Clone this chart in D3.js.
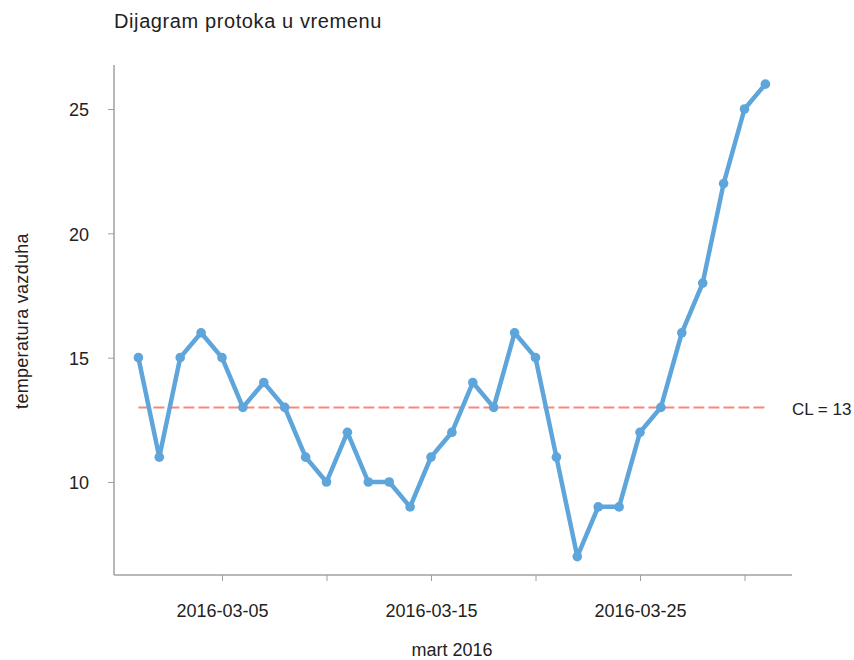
<!DOCTYPE html>
<html>
<head>
<meta charset="utf-8">
<script src="https://cdn.jsdelivr.net/npm/d3@7"></script>
<style>
  body { margin: 0; background: #fff; }
  svg text { font-family: "Liberation Sans", Arial, sans-serif; fill: #222; }
</style>
</head>
<body>
<svg id="chart" width="854" height="660"></svg>
<script>
// data: daily air temperature, March 2016
const days = d3.range(1, 32).map(d => new Date(2016, 2, d));
const temps = [15, 11, 15, 16, 15, 13, 14, 13, 11, 10, 12, 10, 10, 9, 11, 12, 14, 13, 16, 15, 11, 7, 9, 9, 12, 13, 16, 18, 22, 25, 26];
const yTicks = [10, 15, 20, 25];
const tickDays = [5, 10, 15, 20, 25, 30];
const labelDays = [5, 15, 25];
const centerLine = 13;

const svg = d3.select("#chart");

const axisColor = "#a0a0a0";
const lineColor = "#5da5da";

// plot area edges
const plotL = 114, plotR = 792, plotT = 65, plotB = 575;

const x = d3.scaleTime()
    .domain(d3.extent(days))
    .range([138.4, 765.4]);

const y = d3.scaleLinear()
    .domain([6.26, 26.77])
    .range([plotB, plotT]);

// title
svg.append("text")
    .attr("x", plotL)
    .attr("y", 28)
    .style("font-size", "20px")
    .style("letter-spacing", "0.6px")
    .text("Dijagram protoka u vremenu");

// y axis
const yAxis = svg.append("g")
    .attr("transform", `translate(${plotL},0)`)
    .call(d3.axisLeft(y).tickValues(yTicks).tickSize(6).tickPadding(19).tickSizeOuter(0));
yAxis.select(".domain").remove();
yAxis.selectAll(".tick line").attr("stroke", axisColor);
yAxis.selectAll(".tick text").style("font-size", "18px").attr("font-family", null).attr("dy", "0.38em");
svg.append("line")
    .attr("x1", plotL).attr("x2", plotL)
    .attr("y1", plotT).attr("y2", plotB)
    .attr("stroke", axisColor).attr("stroke-width", 1.5);

// x axis
const xAxis = svg.append("g")
    .attr("transform", `translate(0,${plotB})`)
    .call(d3.axisBottom(x)
        .tickValues(tickDays.map(d => new Date(2016, 2, d)))
        .tickSize(6)
        .tickFormat(d => labelDays.includes(d.getDate()) ? d3.timeFormat("%Y-%m-%d")(d) : ""));
xAxis.select(".domain").remove();
xAxis.selectAll(".tick line").attr("stroke", axisColor);
xAxis.selectAll(".tick text")
    .style("font-size", "18px")
    .attr("font-family", null)
    .attr("y", 42)
    .attr("dy", 0);
svg.append("line")
    .attr("x1", plotL).attr("x2", plotR)
    .attr("y1", plotB).attr("y2", plotB)
    .attr("stroke", axisColor).attr("stroke-width", 1.5);

// axis titles
svg.append("text")
    .attr("x", 452)
    .attr("y", 656)
    .attr("text-anchor", "middle")
    .style("font-size", "18px")
    .text("mart 2016");

svg.append("text")
    .attr("transform", `translate(28,321) rotate(-90)`)
    .attr("text-anchor", "middle")
    .style("font-size", "18px")
    .style("letter-spacing", "0.3px")
    .text("temperatura vazduha");

// center line
svg.append("line")
    .attr("x1", x(days[0])).attr("x2", x(days[days.length - 1]))
    .attr("y1", y(centerLine)).attr("y2", y(centerLine))
    .attr("stroke", "#f8877f")
    .attr("stroke-width", 2)
    .attr("stroke-dasharray", "11,4");

svg.append("text")
    .attr("x", 792)
    .attr("y", 415)
    .style("font-size", "17px")
    .text("CL = " + centerLine);

// series
const pts = days.map((d, i) => ({ date: d, value: temps[i] }));

svg.append("path")
    .datum(pts)
    .attr("fill", "none")
    .attr("stroke", lineColor)
    .attr("stroke-width", 4.5)
    .attr("stroke-linejoin", "round")
    .attr("d", d3.line().x(d => x(d.date)).y(d => y(d.value)));

svg.selectAll("circle.pt")
    .data(pts)
    .enter()
    .append("circle")
    .attr("class", "pt")
    .attr("cx", d => x(d.date))
    .attr("cy", d => y(d.value))
    .attr("r", 4.8)
    .attr("fill", lineColor);
</script>
</body>
</html>
